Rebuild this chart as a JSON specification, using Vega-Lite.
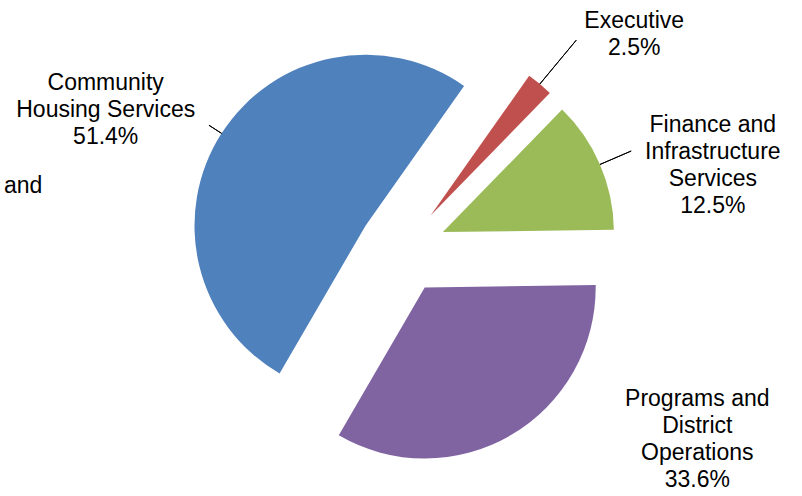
{
  "$schema": "https://vega.github.io/schema/vega-lite/v6.json",
  "width": 799,
  "height": 493,
  "autosize": {"type": "none"},
  "padding": {"left": 3, "top": 3, "right": 0, "bottom": 0},
  "background": "white",
  "config": {"view": {"stroke": null}, "text": {"font": "Liberation Sans", "color": "#000000"}},
  "data": {
    "values": [
      {"name": "Executive", "value": 2.5, "order": 1, "label": "Executive\n2.5%"},
      {"name": "Finance and Infrastructure Services", "value": 12.5, "order": 2, "label": "Finance and\nInfrastructure\nServices\n12.5%"},
      {"name": "Programs and District Operations", "value": 33.6, "order": 3, "label": "Programs and\nDistrict\nOperations\n33.6%"},
      {"name": "Community Housing Services", "value": 51.4, "order": 4, "label": "Community\nHousing Services\n51.4%"}
    ]
  },
  "layer": [
    {
      "transform": [
        {"stack": "value", "groupby": [], "sort": [{"field": "order", "order": "ascending"}], "as": ["v0", "v1"]},
        {"filter": {"field": "name", "equal": "Executive"}}
      ],
      "layer": [
        {
          "mark": {"type": "arc", "outerRadius": 171, "xOffset": 28.1, "yOffset": -33.9},
          "encoding": {
            "theta": {"field": "v0", "type": "quantitative", "scale": {"domain": [0, 100], "range": [0.6144, 6.8976]}},
            "theta2": {"field": "v1"},
            "color": {"field": "name", "type": "nominal", "legend": null, "scale": {"domain": ["Executive", "Finance and Infrastructure Services", "Programs and District Operations", "Community Housing Services"], "range": ["#C0504D", "#9BBB59", "#8064A2", "#4F81BD"]}}
          }
        },
        {
          "transform": [
            {"fold": ["v0", "v1"], "as": ["edge", "t"]},
            {"aggregate": [{"op": "mean", "field": "t", "as": "mid"}], "groupby": ["name", "label"]}
          ],
          "layer": [
            {
              "mark": {"type": "arc", "radius": 228, "radius2": 171, "filled": false, "stroke": "#000000", "strokeWidth": 1, "xOffset": 28.1, "yOffset": -33.9},
              "encoding": {
                "theta": {"field": "mid", "type": "quantitative", "scale": {"domain": [0, 100], "range": [0.6144, 6.8976]}},
                "theta2": {"field": "mid"}
              }
            },
            {
              "mark": {"type": "text", "radius": 230, "xOffset": 28.1, "yOffset": -33.9, "dx": 56.7, "dy": -17.2, "fontSize": 23, "lineHeight": 27, "lineBreak": "\n", "align": "center", "baseline": "middle"},
              "encoding": {
                "theta": {"field": "mid", "type": "quantitative", "scale": {"domain": [0, 100], "range": [0.6144, 6.8976]}},
                "text": {"field": "label", "type": "nominal"}
              }
            }
          ]
        }
      ]
    },
    {
      "transform": [
        {"stack": "value", "groupby": [], "sort": [{"field": "order", "order": "ascending"}], "as": ["v0", "v1"]},
        {"filter": {"field": "name", "equal": "Finance and Infrastructure Services"}}
      ],
      "layer": [
        {
          "mark": {"type": "arc", "outerRadius": 171, "xOffset": 40.4, "yOffset": -17.4},
          "encoding": {
            "theta": {"field": "v0", "type": "quantitative", "scale": {"domain": [0, 100], "range": [0.6144, 6.8976]}},
            "theta2": {"field": "v1"},
            "color": {"field": "name", "type": "nominal", "legend": null, "scale": {"domain": ["Executive", "Finance and Infrastructure Services", "Programs and District Operations", "Community Housing Services"], "range": ["#C0504D", "#9BBB59", "#8064A2", "#4F81BD"]}}
          }
        },
        {
          "transform": [
            {"fold": ["v0", "v1"], "as": ["edge", "t"]},
            {"aggregate": [{"op": "mean", "field": "t", "as": "mid"}], "groupby": ["name", "label"]}
          ],
          "layer": [
            {
              "mark": {"type": "arc", "radius": 205, "radius2": 171, "filled": false, "stroke": "#000000", "strokeWidth": 1, "xOffset": 40.4, "yOffset": -17.4},
              "encoding": {
                "theta": {"field": "mid", "type": "quantitative", "scale": {"domain": [0, 100], "range": [0.6144, 6.8976]}},
                "theta2": {"field": "mid"}
              }
            },
            {
              "mark": {"type": "text", "radius": 230, "xOffset": 40.4, "yOffset": -17.4, "dx": 58.7, "dy": -16.3, "fontSize": 23, "lineHeight": 27, "lineBreak": "\n", "align": "center", "baseline": "middle"},
              "encoding": {
                "theta": {"field": "mid", "type": "quantitative", "scale": {"domain": [0, 100], "range": [0.6144, 6.8976]}},
                "text": {"field": "label", "type": "nominal"}
              }
            }
          ]
        }
      ]
    },
    {
      "transform": [
        {"stack": "value", "groupby": [], "sort": [{"field": "order", "order": "ascending"}], "as": ["v0", "v1"]},
        {"filter": {"field": "name", "equal": "Programs and District Operations"}}
      ],
      "layer": [
        {
          "mark": {"type": "arc", "outerRadius": 171, "xOffset": 22.2, "yOffset": 38.0},
          "encoding": {
            "theta": {"field": "v0", "type": "quantitative", "scale": {"domain": [0, 100], "range": [0.6144, 6.8976]}},
            "theta2": {"field": "v1"},
            "color": {"field": "name", "type": "nominal", "legend": null, "scale": {"domain": ["Executive", "Finance and Infrastructure Services", "Programs and District Operations", "Community Housing Services"], "range": ["#C0504D", "#9BBB59", "#8064A2", "#4F81BD"]}}
          }
        },
        {
          "transform": [
            {"fold": ["v0", "v1"], "as": ["edge", "t"]},
            {"aggregate": [{"op": "mean", "field": "t", "as": "mid"}], "groupby": ["name", "label"]}
          ],
          "layer": [
            {
              "mark": {"type": "text", "radius": 230, "xOffset": 22.2, "yOffset": 38.0, "dx": 156.5, "dy": -87.0, "fontSize": 23, "lineHeight": 27, "lineBreak": "\n", "align": "center", "baseline": "middle"},
              "encoding": {
                "theta": {"field": "mid", "type": "quantitative", "scale": {"domain": [0, 100], "range": [0.6144, 6.8976]}},
                "text": {"field": "label", "type": "nominal"}
              }
            }
          ]
        }
      ]
    },
    {
      "transform": [
        {"stack": "value", "groupby": [], "sort": [{"field": "order", "order": "ascending"}], "as": ["v0", "v1"]},
        {"filter": {"field": "name", "equal": "Community Housing Services"}}
      ],
      "layer": [
        {
          "mark": {"type": "arc", "outerRadius": 171, "xOffset": -37.0, "yOffset": -23.8},
          "encoding": {
            "theta": {"field": "v0", "type": "quantitative", "scale": {"domain": [0, 100], "range": [0.6144, 6.8976]}},
            "theta2": {"field": "v1"},
            "color": {"field": "name", "type": "nominal", "legend": null, "scale": {"domain": ["Executive", "Finance and Infrastructure Services", "Programs and District Operations", "Community Housing Services"], "range": ["#C0504D", "#9BBB59", "#8064A2", "#4F81BD"]}}
          }
        },
        {
          "transform": [
            {"fold": ["v0", "v1"], "as": ["edge", "t"]},
            {"aggregate": [{"op": "mean", "field": "t", "as": "mid"}], "groupby": ["name", "label"]}
          ],
          "layer": [
            {
              "mark": {"type": "arc", "radius": 186, "radius2": 171, "filled": false, "stroke": "#000000", "strokeWidth": 1, "xOffset": -37.0, "yOffset": -23.8},
              "encoding": {
                "theta": {"field": "mid", "type": "quantitative", "scale": {"domain": [0, 100], "range": [0.6144, 6.8976]}},
                "theta2": {"field": "mid"}
              }
            },
            {
              "mark": {"type": "text", "radius": 230, "xOffset": -37.0, "yOffset": -23.8, "dx": -66.2, "dy": -18.3, "fontSize": 23, "lineHeight": 27, "lineBreak": "\n", "align": "center", "baseline": "middle"},
              "encoding": {
                "theta": {"field": "mid", "type": "quantitative", "scale": {"domain": [0, 100], "range": [0.6144, 6.8976]}},
                "text": {"field": "label", "type": "nominal"}
              }
            }
          ]
        }
      ]
    },
    {
      "data": {"values": [{"fragment": "and"}]},
      "mark": {"type": "text", "x": 1, "y": 190, "align": "left", "baseline": "alphabetic", "fontSize": 23},
      "encoding": {"text": {"field": "fragment", "type": "nominal"}}
    }
  ]
}
